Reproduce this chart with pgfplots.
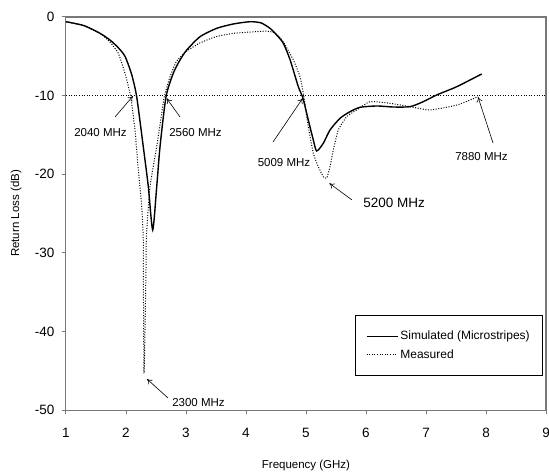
\documentclass[border=0pt]{standalone}
\usepackage{pgfplots}
\pgfplotsset{compat=1.18}
\usepackage{fontspec}
\setmainfont{Liberation Sans}
\usetikzlibrary{arrows.meta}
\definecolor{axgray}{RGB}{120,120,120}
\begin{document}
\begin{tikzpicture}
\begin{axis}[
  scale only axis, width=480pt, height=393pt,
  xmin=1, xmax=9, ymin=-50, ymax=0,
  xtick={1,2,3,4,5,6,7,8,9}, ytick={-50,-40,-30,-20,-10,0},
  tick pos=left, tick align=outside, major tick length=4pt,
  major tick style={axgray, line width=1pt},
  axis line style={axgray, line width=1pt},
  /pgf/number format/assume math mode=true,
  ticklabel style={font=\fontsize{13.5}{16}\selectfont},
  xticklabel style={yshift=-11pt},
  yticklabel style={xshift=-4pt},
  xlabel={Frequency (GHz)}, ylabel={Return Loss (dB)},
  every axis x label/.style={at={(axis description cs:0.5,-0.1425)}, anchor=center, font=\fontsize{11.5}{14}\selectfont},
  every axis y label/.style={at={(axis description cs:-0.104,0.5)}, anchor=center, rotate=90, font=\fontsize{11.5}{14}\selectfont},
  clip=false,
  legend style={at={(axis description cs:0.994,0.0865)}, anchor=south east, draw=black, line width=0.8pt,
    font=\fontsize{12}{14}\selectfont, inner xsep=11pt, inner ysep=14pt, row sep=4pt, cells={anchor=west}},
  legend image code/.code={\draw[#1] (0pt,0pt) -- (31pt,0pt);},
]
\addplot[black, line width=1.4pt, smooth, tension=0.4] coordinates {
(1.000,-0.60) (1.300,-1.10) (1.567,-2.08) (1.733,-2.93) (1.870,-3.90) (1.983,-5.00) (2.094,-7.30)
(2.178,-10.14) (2.288,-16.50) (2.372,-21.59) (2.445,-27.10) (2.512,-21.59)
(2.567,-16.50) (2.667,-10.14) (2.788,-7.16) (2.900,-5.47) (3.012,-4.20)
(3.233,-2.51) (3.512,-1.44) (3.788,-0.89) (4.067,-0.60) (4.250,-0.75)
(4.400,-1.44) (4.512,-2.29) (4.622,-3.35) (4.733,-5.40) (4.872,-8.87)
(4.945,-10.22) (5.038,-13.10) (5.122,-15.65) (5.178,-17.05) (5.288,-16.07)
(5.400,-14.38) (5.567,-12.89) (5.733,-12.05) (5.900,-11.49) (6.183,-11.32)
(6.450,-11.45) (6.733,-11.41) (6.955,-10.77) (7.178,-9.92) (7.512,-8.87) (7.928,-7.25)
};
\addlegendentry{Simulated (Microstripes)}
\addplot[black, line width=1pt, dash pattern=on 1pt off 1.6pt, smooth, tension=0.3] coordinates {
(1.000,-0.60) (1.300,-1.10) (1.567,-2.08) (1.733,-3.20) (1.872,-4.62) (1.983,-7.16)
(2.078,-10.14) (2.150,-14.38) (2.205,-19.47) (2.262,-24.13) (2.288,-28.37)
(2.290,-34.31) (2.300,-45.33) (2.317,-39.80) (2.333,-32.20) (2.340,-27.95)
(2.400,-21.59) (2.512,-16.50) (2.595,-12.25) (2.638,-10.14) (2.733,-7.60)
(2.845,-5.60) (3.000,-4.40) (3.233,-3.30) (3.500,-2.50) (3.789,-2.08)
(4.100,-1.90) (4.340,-1.80) (4.450,-1.95) (4.550,-2.50) (4.622,-3.14)
(4.789,-5.47) (4.900,-7.60) (4.967,-10.22) (5.038,-13.96) (5.122,-17.34)
(5.205,-19.05) (5.288,-20.32) (5.344,-20.52) (5.400,-19.05) (5.455,-16.92)
(5.538,-14.38) (5.678,-12.68) (5.845,-11.83) (6.067,-10.77) (6.400,-10.98)
(6.733,-11.41) (7.067,-11.83) (7.517,-11.20) (7.867,-10.14)
};
\addlegendentry{Measured}
\addplot[black, line width=1pt, dash pattern=on 1pt off 1.6pt, forget plot] coordinates {(1,-10) (9,-10)};
% annotations
\begin{scope}[every node/.style={font=\fontsize{11.5}{14}\selectfont, inner sep=0pt}]
\node at (axis cs:1.575,-14.76) {2040 MHz};
\node at (axis cs:3.158,-14.76) {2560 MHz};
\node at (axis cs:4.633,-18.57) {5009 MHz};
\node[font=\fontsize{13.5}{16}\selectfont] at (axis cs:6.467,-23.66) {5200 MHz};
\node at (axis cs:7.925,-17.81) {7880 MHz};
\node at (axis cs:3.208,-49.10) {2300 MHz};
\end{scope}
\begin{scope}[line width=0.6pt, -{To[length=5pt,width=6pt]}]
\draw (axis cs:1.817,-12.72) -- (axis cs:2.117,-10.05);
\draw (axis cs:2.900,-12.72) -- (axis cs:2.678,-10.35);
\draw (axis cs:4.450,-15.90) -- (axis cs:4.945,-10.35);
\draw (axis cs:5.767,-23.28) -- (axis cs:5.390,-21.16);
\draw (axis cs:8.117,-16.03) -- (axis cs:7.867,-10.18);
\draw (axis cs:2.700,-48.47) -- (axis cs:2.350,-46.06);
\end{scope}
\draw[axgray, line width=1.5pt] (rel axis cs:0,1) -- (rel axis cs:1,1);
\draw[axgray, line width=2pt] (rel axis cs:1,0) -- (rel axis cs:1,1);
\coordinate (ll) at (rel axis cs:0,0);
\coordinate (ur) at (rel axis cs:1,1);
\end{axis}
\pgfresetboundingbox
\path[use as bounding box] ([shift={(-66pt,-63pt)}]ll) rectangle ([shift={(3pt,17pt)}]ur);
\end{tikzpicture}
\end{document}
